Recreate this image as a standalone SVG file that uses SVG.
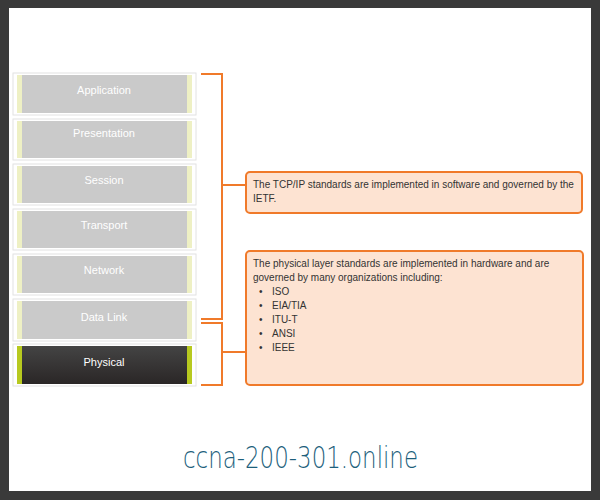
<svg xmlns="http://www.w3.org/2000/svg" width="600" height="500" viewBox="0 0 600 500">
<defs>
<linearGradient id="dk" x1="0" y1="0" x2="0" y2="1"><stop offset="0" stop-color="#444"/><stop offset="1" stop-color="#2a2626"/></linearGradient>
<style>
.o{fill:#fff;stroke:#e2e2e2;stroke-width:1}
.g{fill:#cacaca}
.y{fill:#eef0c4}
.yd{fill:#b7c91f}
.t{font-family:"Liberation Sans",Arial,sans-serif;font-size:11px;fill:#fff;text-anchor:middle}
.c{fill:none;stroke:#f07a2a;stroke-width:2}
.b{fill:#fde3d2;stroke:#f07a2a;stroke-width:2}
.bt{font-family:"Liberation Sans",Arial,sans-serif;font-size:10px;fill:#333}
</style>
</defs>
<rect width="600" height="500" fill="#3a3a3a"/>
<rect x="9" y="8" width="582" height="483" fill="#fff"/>
<g id="application"><rect class="o" x="13" y="73" width="183" height="42"/><rect class="y" x="17" y="75" width="175" height="38"/><rect class="g" x="22" y="75" width="165" height="38"/><text class="t" x="104" y="94">Application</text></g>
<g id="presentation"><rect class="o" x="13" y="119" width="183" height="41"/><rect class="y" x="17" y="121" width="175" height="37"/><rect class="g" x="22" y="121" width="165" height="37"/><text class="t" x="104" y="137">Presentation</text></g>
<g id="session"><rect class="o" x="13" y="164" width="183" height="41"/><rect class="y" x="17" y="166" width="175" height="37"/><rect class="g" x="22" y="166" width="165" height="37"/><text class="t" x="104" y="184">Session</text></g>
<g id="transport"><rect class="o" x="13" y="209" width="183" height="41"/><rect class="y" x="17" y="211" width="175" height="37"/><rect class="g" x="22" y="211" width="165" height="37"/><text class="t" x="104" y="229">Transport</text></g>
<g id="network"><rect class="o" x="13" y="254" width="183" height="41"/><rect class="y" x="17" y="256" width="175" height="37"/><rect class="g" x="22" y="256" width="165" height="37"/><text class="t" x="104" y="274">Network</text></g>
<g id="datalink"><rect class="o" x="13" y="299" width="183" height="42"/><rect class="y" x="17" y="301" width="175" height="38"/><rect class="g" x="22" y="301" width="165" height="38"/><text class="t" x="104" y="321">Data Link</text></g>
<g id="physical"><rect class="o" x="13" y="344" width="183" height="42" stroke="#999"/><rect class="yd" x="17" y="346" width="175" height="38"/><rect x="22" y="346" width="165" height="38" fill="url(#dk)"/><text class="t" x="104" y="366">Physical</text></g>
<g id="connectors">
<path class="c" d="M201 74H222V319H201M222 185H246"/>
<path class="c" d="M201 323H222V385H201M222 352H246"/>
</g>
<g id="tcpip"><rect class="b" x="246" y="172" width="336" height="41" rx="4"/>
<text class="bt" x="253" y="188">The TCP/IP standards are implemented in software and governed by the</text>
<text class="bt" x="253" y="202">IETF.</text></g>
<g id="physnote"><rect class="b" x="246" y="251" width="337" height="134" rx="4"/>
<text class="bt" x="253" y="267">The physical layer standards are implemented in hardware and are</text>
<text class="bt" x="253" y="281">governed by many organizations including:</text>
<g class="bt"><text x="259" y="295">•</text><text x="272" y="295">ISO</text>
<text x="259" y="309">•</text><text x="272" y="309">EIA/TIA</text>
<text x="259" y="323">•</text><text x="272" y="323">ITU-T</text>
<text x="259" y="337">•</text><text x="272" y="337">ANSI</text>
<text x="259" y="351">•</text><text x="272" y="351">IEEE</text></g></g>
<text x="183" y="468" font-family="'DejaVu Sans',sans-serif" font-size="30" font-weight="300" fill="#1d5f7c" textLength="235" lengthAdjust="spacingAndGlyphs">ccna-200-301.online</text>
</svg>
